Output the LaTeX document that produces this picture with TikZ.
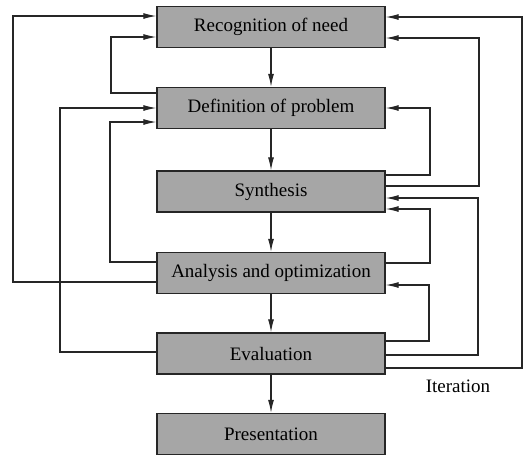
\documentclass[tikz,border=0pt]{standalone}
\usepackage{fontspec}
\setmainfont{Liberation Serif}
\usetikzlibrary{arrows.meta}
\begin{document}
\begin{tikzpicture}[x=1pt,y=-1pt,
  stage/.style={draw=black!85, line width=1.4pt, fill=black!35,
    minimum width=228pt, minimum height=41pt, inner sep=0pt,
    font=\fontsize{19}{22}\selectfont},
  flow/.style={line width=1.1pt, draw=black!85,
    -{Latex[length=13pt,width=6pt]}},
]
\useasboundingbox (0,0) rectangle (525,456);

% design stages
\node[stage] (rec) at (271,27)    {Recognition of need};
\node[stage] (def) at (271,108)   {Definition of problem};
\node[stage] (syn) at (271,191.5) {Synthesis};
\node[stage] (ana) at (271,273)   {Analysis and optimization};
\node[stage] (eva) at (271,353.5) {Evaluation};
\node[stage] (pre) at (271,434)   {Presentation};

% main sequence
\draw[flow] (rec) -- (def);
\draw[flow] (def) -- (syn);
\draw[flow] (syn) -- (ana);
\draw[flow] (ana) -- (eva);
\draw[flow] (eva) -- (pre);

% feedback loops, left side
\draw[flow] (ana.west |- 0,282) -- (13,282) -- (13,16) -- (rec.west |- 0,16);
\draw[flow] (def.west |- 0,93) -- (111,93) -- (111,37) -- (rec.west |- 0,37);
\draw[flow] (eva.west |- 0,352) -- (60,352) -- (60,108) -- (def.west |- 0,108);
\draw[flow] (ana.west |- 0,262) -- (110,262) -- (110,122) -- (def.west |- 0,122);

% feedback loops, right side
\draw[flow] (eva.east |- 0,368) -- (522,368) -- (522,17) -- (rec.east |- 0,17);
\draw[flow] (syn.east |- 0,186) -- (479,186) -- (479,38) -- (rec.east |- 0,38);
\draw[flow] (syn.east |- 0,175) -- (430,175) -- (430,108) -- (def.east |- 0,108);
\draw[flow] (eva.east |- 0,355) -- (478,355) -- (478,198) -- (syn.east |- 0,198);
\draw[flow] (ana.east |- 0,263) -- (430,263) -- (430,209) -- (syn.east |- 0,209);
\draw[flow] (eva.east |- 0,341) -- (429,341) -- (429,285) -- (ana.east |- 0,285);

\node[font=\fontsize{19}{22}\selectfont] (iter) at (458,386) {Iteration};
\end{tikzpicture}
\end{document}
